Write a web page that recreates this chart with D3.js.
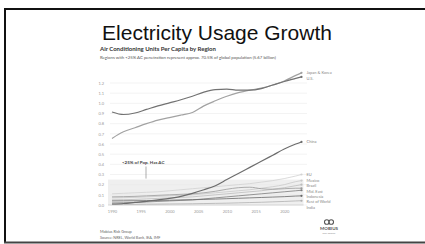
<!DOCTYPE html>
<html>
<head>
<meta charset="utf-8">
<script src="https://cdn.jsdelivr.net/npm/d3@7"></script>
<style>
  html, body { margin: 0; padding: 0; background: #fff; }
  svg { display: block; }
</style>
</head>
<body>
<div id="slide"></div>
<script>
// values (AC units per capita)
var years = [1990, 1992, 1994, 1996, 1998, 2000, 2002, 2004, 2006, 2008, 2010, 2012, 2014, 2016, 2018, 2020, 2022, 2023];
var seriesNames = ["Japan & Korea", "U.S.", "China", "EU", "Mexico", "Brazil", "Mid. East", "Indonesia", "Rest of World", "India"];
var japanKorea = [0.655, 0.72, 0.76, 0.80, 0.835, 0.86, 0.885, 0.91, 0.975, 1.025, 1.07, 1.105, 1.13, 1.15, 1.18, 1.22, 1.275, 1.30];
var us         = [0.915, 0.89, 0.905, 0.94, 0.975, 1.005, 1.035, 1.07, 1.11, 1.135, 1.14, 1.13, 1.13, 1.145, 1.18, 1.215, 1.245, 1.26];
var china      = [0.01, 0.015, 0.025, 0.035, 0.05, 0.065, 0.085, 0.115, 0.15, 0.19, 0.25, 0.31, 0.37, 0.43, 0.49, 0.55, 0.60, 0.62];
var eu         = [0.11, 0.115, 0.12, 0.125, 0.13, 0.14, 0.15, 0.16, 0.17, 0.18, 0.19, 0.20, 0.21, 0.225, 0.24, 0.26, 0.285, 0.30];
var mexico     = [0.07, 0.072, 0.075, 0.08, 0.085, 0.09, 0.095, 0.10, 0.11, 0.12, 0.13, 0.14, 0.15, 0.165, 0.18, 0.20, 0.23, 0.24];
var brazil     = [0.05, 0.052, 0.055, 0.06, 0.065, 0.07, 0.075, 0.08, 0.09, 0.10, 0.11, 0.12, 0.13, 0.14, 0.155, 0.17, 0.19, 0.20];
var midEast    = [0.08, 0.082, 0.085, 0.09, 0.095, 0.10, 0.105, 0.11, 0.12, 0.135, 0.155, 0.17, 0.175, 0.16, 0.155, 0.16, 0.165, 0.165];
var indonesia  = [0.02, 0.022, 0.025, 0.03, 0.035, 0.04, 0.045, 0.05, 0.06, 0.07, 0.08, 0.09, 0.10, 0.11, 0.12, 0.13, 0.14, 0.145];
var restWorld  = [0.04, 0.041, 0.042, 0.043, 0.045, 0.047, 0.05, 0.052, 0.055, 0.058, 0.062, 0.066, 0.07, 0.074, 0.078, 0.082, 0.088, 0.09];
var india      = [0.005, 0.006, 0.007, 0.008, 0.009, 0.01, 0.011, 0.012, 0.014, 0.016, 0.018, 0.021, 0.024, 0.027, 0.031, 0.035, 0.04, 0.042];
var yTicks = [0.0, 0.1, 0.2, 0.3, 0.4, 0.5, 0.6, 0.7, 0.8, 0.9, 1.0, 1.1, 1.2];
var xTicks = [1990, 1995, 2000, 2005, 2010, 2015, 2020];
var bandValue = 0.25;

var seriesValues = [japanKorea, us, china, eu, mexico, brazil, midEast, indonesia, restWorld, india];
var seriesColors = ["#a2a2a2", "#727272", "#6c6c6c", "#d2d2d2", "#c9c9c9", "#bdbdbd", "#9a9a9a", "#7c7c7c", "#686868", "#b0b0b0"];
var seriesWidths = [1.2, 1.2, 1.2, 0.8, 0.8, 0.8, 0.8, 0.8, 0.8, 0.8];

var W = 425, H = 244;
var svg = d3.select("#slide").append("svg")
    .attr("width", W)
    .attr("height", H);

// slide frame
svg.append("line").attr("x1", 4).attr("x2", W).attr("y1", 9).attr("y2", 9)
    .attr("stroke", "#111").attr("stroke-width", 2);
svg.append("line").attr("x1", 5).attr("x2", 5).attr("y1", 8).attr("y2", 243)
    .attr("stroke", "#111").attr("stroke-width", 2);
svg.append("line").attr("x1", 4).attr("x2", W).attr("y1", 242.5).attr("y2", 242.5)
    .attr("stroke", "#444").attr("stroke-width", 2);

svg.append("text")
    .attr("x", 217).attr("y", 40)
    .attr("text-anchor", "middle")
    .style("font-family", "'Liberation Sans', Arial, sans-serif")
    .style("font-size", "21px")
    .attr("fill", "#111")
    .text("Electricity Usage Growth");

// embedded chart
var chartFont = "Lato, 'Open Sans', sans-serif";
svg.append("text")
    .attr("x", 100).attr("y", 51)
    .style("font-family", chartFont).style("font-size", "6px").style("font-weight", "bold")
    .attr("fill", "#333")
    .text("Air Conditioning Units Per Capita by Region");
svg.append("text")
    .attr("x", 100).attr("y", 59)
    .style("font-family", chartFont).style("font-size", "4.3px")
    .attr("fill", "#555")
    .text("Regions with <25% AC penetration represent approx. 70.5% of global population (5.67 billion)");

var x = d3.scaleLinear().domain([1990, 2023]).range([112, 301.5]);
var y = d3.scaleLinear().domain([0, 1.2]).range([205, 83]);

// shaded band
svg.append("rect")
    .attr("x", x(1990) - 4).attr("y", y(bandValue))
    .attr("width", x(2023) - x(1990) + 6)
    .attr("height", y(0) - y(bandValue))
    .attr("fill", "#efefef");

// grid
svg.append("g").selectAll("line")
    .data(yTicks)
    .enter().append("line")
    .attr("x1", 110).attr("x2", 307)
    .attr("y1", function (d) { return y(d); })
    .attr("y2", function (d) { return y(d); })
    .attr("stroke", "#e6e6e6").attr("stroke-width", 0.5);

var yAxis = svg.append("g")
    .attr("transform", "translate(107,0)")
    .call(d3.axisLeft(y).tickValues(yTicks).tickSize(0).tickFormat(d3.format(".1f")));
yAxis.select(".domain").remove();
yAxis.selectAll("text")
    .style("font-family", chartFont).style("font-size", "4px").attr("fill", "#999");

var xAxis = svg.append("g")
    .attr("transform", "translate(0,207)")
    .call(d3.axisBottom(x).tickValues(xTicks).tickSize(0).tickFormat(d3.format("d")));
xAxis.select(".domain").remove();
xAxis.selectAll("text")
    .style("font-family", chartFont).style("font-size", "4px").attr("fill", "#999");

// baseline
svg.append("line")
    .attr("x1", x(1990) - 4).attr("x2", x(2023) + 2)
    .attr("y1", y(0)).attr("y2", y(0))
    .attr("stroke", "#cfcfcf").attr("stroke-width", 0.8);

var line = d3.line()
    .x(function (d, i) { return x(years[i]); })
    .y(function (d) { return y(d); })
    .curve(d3.curveMonotoneX);

// draw light lines first so the dark ones sit on top
var order = [3, 4, 5, 9, 6, 7, 8, 0, 1, 2];
order.forEach(function (k) {
    svg.append("path")
        .attr("d", line(seriesValues[k]))
        .attr("fill", "none")
        .attr("stroke", seriesColors[k])
        .attr("stroke-width", seriesWidths[k]);
    var last = seriesValues[k][seriesValues[k].length - 1];
    svg.append("circle")
        .attr("cx", x(years[years.length - 1]))
        .attr("cy", y(last))
        .attr("r", 1.1)
        .attr("fill", seriesColors[k]);
});

// end labels, pushed apart so they do not overlap
var labels = seriesNames.map(function (name, k) {
    var v = seriesValues[k][seriesValues[k].length - 1];
    return { name: name, y: y(v) };
});
labels.sort(function (a, b) { return a.y - b.y; });
for (var i = 1; i < labels.length; i++) {
    if (labels[i].y - labels[i - 1].y < 5.3) {
        labels[i].y = labels[i - 1].y + 5.3;
    }
}
svg.append("g").selectAll("text")
    .data(labels)
    .enter().append("text")
    .attr("x", x(2023) + 5)
    .attr("y", function (d) { return d.y; })
    .attr("dy", "0.35em")
    .style("font-family", chartFont).style("font-size", "4px")
    .attr("fill", "#888")
    .text(function (d) { return d.name; });

// band annotation
svg.append("text")
    .attr("x", 122).attr("y", 163.5)
    .style("font-family", chartFont).style("font-size", "4.5px").style("font-weight", "bold")
    .attr("fill", "#444")
    .text("<25% of Pop. Has AC");
svg.append("line")
    .attr("x1", 146).attr("x2", 146).attr("y1", 166.5).attr("y2", y(bandValue) - 1)
    .attr("stroke", "#777").attr("stroke-width", 0.6);

// footer
svg.append("text")
    .attr("x", 100).attr("y", 233)
    .style("font-family", chartFont).style("font-size", "3.8px")
    .attr("fill", "#666")
    .text("Mobius Risk Group");
svg.append("text")
    .attr("x", 100).attr("y", 239)
    .style("font-family", chartFont).style("font-size", "3.8px")
    .attr("fill", "#666")
    .text("Source: NREL, World Bank, IEA, IMF");

// logo
var logo = svg.append("g").attr("transform", "translate(329,222)");
logo.append("circle").attr("cx", -2.2).attr("cy", 0).attr("r", 2.3)
    .attr("fill", "none").attr("stroke", "#555").attr("stroke-width", 1.1);
logo.append("circle").attr("cx", 2.2).attr("cy", 0).attr("r", 2.3)
    .attr("fill", "none").attr("stroke", "#555").attr("stroke-width", 1.1);
logo.append("text")
    .attr("x", 0).attr("y", 8)
    .attr("text-anchor", "middle")
    .style("font-family", chartFont).style("font-size", "4.5px").style("font-weight", "bold")
    .attr("fill", "#555")
    .text("MOBIUS");
logo.append("text")
    .attr("x", 0).attr("y", 12)
    .attr("text-anchor", "middle")
    .style("font-family", chartFont).style("font-size", "2.2px")
    .attr("fill", "#888")
    .text("RISK GROUP");
</script>
</body>
</html>
